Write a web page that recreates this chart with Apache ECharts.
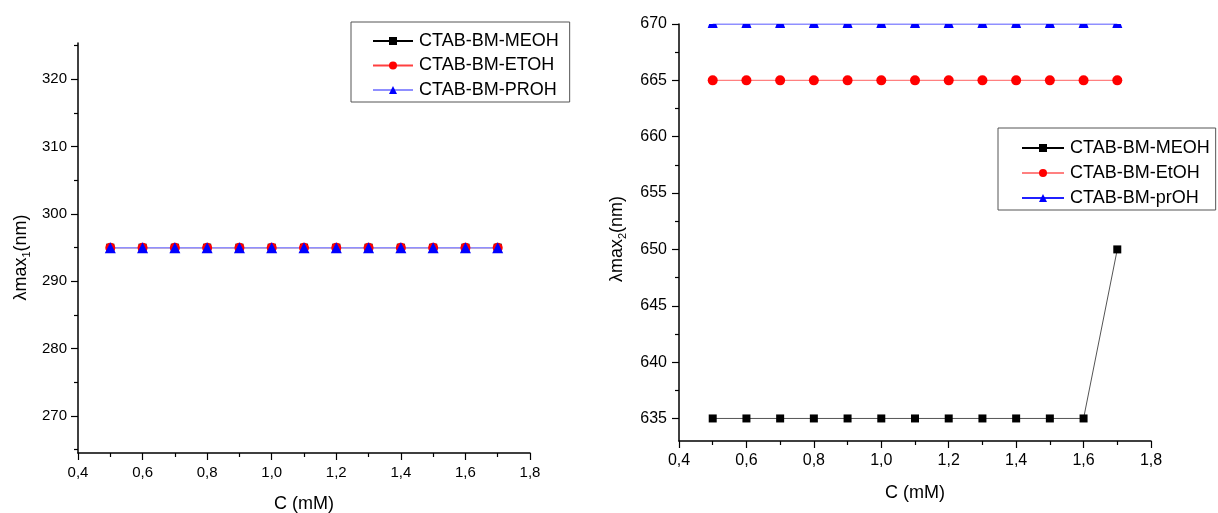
<!DOCTYPE html>
<html>
<head>
<meta charset="utf-8">
<script src="https://cdn.jsdelivr.net/npm/echarts@6/dist/echarts.min.js"></script>
<style>
html,body{margin:0;padding:0;background:#fff;}
#chart{width:1218px;height:513px;}
</style>
</head>
<body>
<div id="chart"></div>
<script>
// ---- data ----
const concentrations = [0.5, 0.6, 0.7, 0.8, 0.9, 1.0, 1.1, 1.2, 1.3, 1.4, 1.5, 1.6, 1.7];
const leftNames = ['CTAB-BM-MEOH', 'CTAB-BM-ETOH', 'CTAB-BM-PROH'];
const rightNames = ['CTAB-BM-MEOH', 'CTAB-BM-EtOH', 'CTAB-BM-prOH'];
const left_MEOH = [295, 295, 295, 295, 295, 295, 295, 295, 295, 295, 295, 295, 295];
const left_ETOH = [295, 295, 295, 295, 295, 295, 295, 295, 295, 295, 295, 295, 295];
const left_PROH = [295, 295, 295, 295, 295, 295, 295, 295, 295, 295, 295, 295, 295];
const right_MEOH = [635, 635, 635, 635, 635, 635, 635, 635, 635, 635, 635, 635, 650];
const right_EtOH = [665, 665, 665, 665, 665, 665, 665, 665, 665, 665, 665, 665, 665];
const right_prOH = [670, 670, 670, 670, 670, 670, 670, 670, 670, 670, 670, 670, 670];
const leftYTicks = [270, 280, 290, 300, 310, 320];
const leftYMinor = [265, 275, 285, 295, 305, 315, 325];
const rightYTicks = [635, 640, 645, 650, 655, 660, 665, 670];
const rightYMinor = [637.5, 642.5, 647.5, 652.5, 657.5, 662.5, 667.5];

const FONT = 'Liberation Sans, Arial, sans-serif';
const pairs = arr => arr.map((v, i) => [concentrations[i], v]);
const fmtX = v => v.toFixed(1).replace('.', ',');

function xAxisCfg(grid, fs, labelMargin, nameGap) {
  return {
    type: 'value', gridIndex: grid, min: 0.4, max: 1.8, interval: 0.2,
    name: 'C (mM)', nameLocation: 'middle', nameGap: nameGap,
    nameTextStyle: {fontFamily: FONT, fontSize: 18, color: '#000'},
    axisLine: {show: true, onZero: false, lineStyle: {color: '#000', width: 1.5}},
    axisTick: {show: true, inside: false, length: 7, lineStyle: {color: '#000', width: 1.2}},
    minorTick: {show: true, splitNumber: 2, length: 4, lineStyle: {color: '#000', width: 1.2}},
    axisLabel: {formatter: fmtX, fontFamily: FONT, fontSize: fs, color: '#000', margin: labelMargin},
    splitLine: {show: false}, minorSplitLine: {show: false}
  };
}
function yAxisCfg(grid, min, max, ticks, fs, margin, name, nameGap, shift) {
  return {
    type: 'value', gridIndex: grid, min: min, max: max, position: 'left',
    name: name, nameLocation: 'middle', nameGap: nameGap, nameRotate: 90,
    nameTextStyle: {fontFamily: FONT, fontSize: 18, color: '#000', lineHeight: 22,
      padding: [0, shift, 0, 0],
      rich: {sub: {fontFamily: FONT, fontSize: 11, color: '#000', verticalAlign: 'bottom', lineHeight: 12}}},
    axisLine: {show: true, onZero: false, lineStyle: {color: '#000', width: 1.5}},
    axisTick: {show: true, inside: false, length: 7, customValues: ticks, lineStyle: {color: '#000', width: 1.2}},
    axisLabel: {customValues: ticks, fontFamily: FONT, fontSize: fs, color: '#000', margin: margin},
    splitLine: {show: false}
  };
}
function yMinorCfg(grid, min, max, ticks) {
  return {
    type: 'value', gridIndex: grid, min: min, max: max, position: 'left', offset: 0,
    axisLine: {show: false},
    axisTick: {show: true, inside: false, length: 4, customValues: ticks, lineStyle: {color: '#000', width: 1.2}},
    axisLabel: {show: false}, splitLine: {show: false}
  };
}
function legendCfg(names, left, top, padding, gap, itemWidth) {
  return {
    data: names, orient: 'vertical', left: left, top: top,
    padding: padding, itemGap: gap, itemWidth: itemWidth, itemHeight: 10,
    borderColor: '#555', borderWidth: 1, borderRadius: 0,
    textStyle: {fontFamily: FONT, fontSize: 18, color: '#000', lineHeight: 20, padding: [0, 0, 0, 1]},
    selectedMode: false
  };
}

const trapezoid = 'path://M1.5,0 L8.5,0 L10,4 L0,4 Z';

const option = {
  animation: false,
  backgroundColor: '#fff',
  grid: [
    {left: 78, top: 43, width: 452, height: 410, containLabel: false, outerBoundsMode: 'none'},
    {left: 679, top: 24, width: 472, height: 417, containLabel: false, outerBoundsMode: 'none'}
  ],
  xAxis: [xAxisCfg(0, 15, 12, 42), xAxisCfg(1, 16, 12, 43)],
  yAxis: [
    yAxisCfg(0, 264.5, 325.4, leftYTicks, 15, 11, 'λmax{sub|1}(nm)', 46, 19),
    yMinorCfg(0, 264.5, 325.4, leftYMinor),
    yAxisCfg(1, 633, 670, rightYTicks, 16, 12, 'λmax{sub|2}(nm)', 51, 13),
    yMinorCfg(1, 633, 670, rightYMinor)
  ],
  legend: [
    legendCfg(leftNames, 351, 22, [9, 11, 2, 21], 4.5, 40),
    legendCfg(rightNames, 998, 128, [10, 6, 2, 23], 5, 42)
  ],
  series: [
    {name: leftNames[0], type: 'line', xAxisIndex: 0, yAxisIndex: 0, data: pairs(left_MEOH),
      symbol: 'rect', symbolSize: 8, itemStyle: {color: '#000'}, lineStyle: {color: '#000', width: 1}},
    {name: leftNames[1], type: 'line', xAxisIndex: 0, yAxisIndex: 0, data: pairs(left_ETOH),
      symbol: 'circle', symbolSize: 10, itemStyle: {color: '#ff0000'}, lineStyle: {color: '#ff4040', width: 1}},
    {name: leftNames[2], type: 'line', xAxisIndex: 0, yAxisIndex: 0, data: pairs(left_PROH),
      symbol: 'triangle', symbolSize: 11, itemStyle: {color: '#0000ff'}, lineStyle: {color: '#8f8fff', width: 1.5}},
    {name: rightNames[0], type: 'line', xAxisIndex: 1, yAxisIndex: 2, data: pairs(right_MEOH),
      symbol: 'rect', symbolSize: 8, itemStyle: {color: '#000'}, lineStyle: {color: '#555', width: 1}},
    {name: rightNames[1], type: 'line', xAxisIndex: 1, yAxisIndex: 2, data: pairs(right_EtOH),
      symbol: 'circle', symbolSize: 10, itemStyle: {color: '#ff0000'}, lineStyle: {color: '#ff8080', width: 1.2}},
    {name: rightNames[2], type: 'line', xAxisIndex: 1, yAxisIndex: 2,
      data: pairs(right_prOH).map(p => ({value: p, symbol: trapezoid, symbolSize: [10, 4], symbolOffset: [0, 2]})),
      symbol: 'triangle', symbolSize: 11, itemStyle: {color: '#0000ff'}, lineStyle: {color: '#2020ff', width: 1.2}}
  ]
};

const chart = echarts.init(document.getElementById('chart'), null, {renderer: 'canvas'});
chart.setOption(option);
</script>
</body>
</html>
